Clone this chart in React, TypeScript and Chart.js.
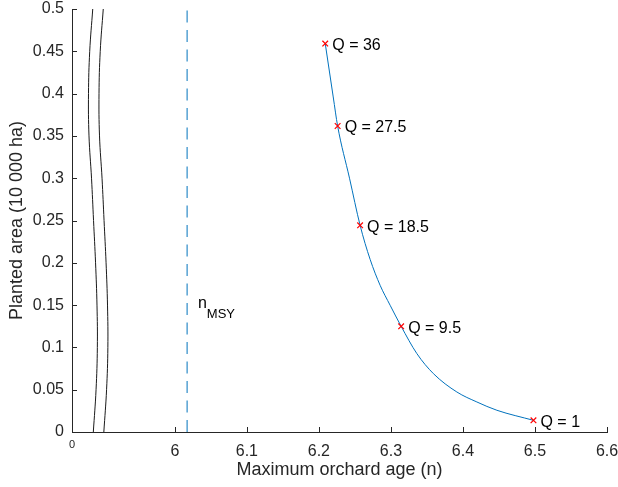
import React, { useEffect, useRef } from 'react';
import { Chart, registerables } from 'chart.js';

Chart.register(...registerables);

// ---- data ----
const curveX = [6.2088, 6.2199, 6.2260, 6.2425, 6.2572, 6.2711, 6.2850, 6.2989, 6.3142, 6.3360, 6.3590, 6.3915, 6.4193, 6.4471, 6.4979];
const curveY = [0.4591, 0.3960, 0.3617, 0.3000, 0.2443, 0.2041, 0.1734, 0.1498, 0.1249, 0.0927, 0.0690, 0.0473, 0.0355, 0.0257, 0.0138];
const markerQ = ['36', '27.5', '18.5', '9.5', '1'];
const markerX = [6.2088, 6.2260, 6.2572, 6.3142, 6.4979];
const markerY = [0.4591, 0.3617, 0.2443, 0.1249, 0.0138];
const nMSY = 6.017;
const nMSYLabelX = 6.032;
const nMSYLabelY = 0.147;
const xMin = 5.8572;
const xMax = 6.6;
const yMin = 0;
const yMax = 0.5;
const xTicks = [6, 6.1, 6.2, 6.3, 6.4, 6.5, 6.6];
const xTickLabels = ['6', '6.1', '6.2', '6.3', '6.4', '6.5', '6.6'];
const yTicks = [0, 0.05, 0.1, 0.15, 0.2, 0.25, 0.3, 0.35, 0.4, 0.45, 0.5];
const yTickLabels = ['0', '0.05', '0.1', '0.15', '0.2', '0.25', '0.3', '0.35', '0.4', '0.45', '0.5'];
// axis-break symbol (two wavy lines)
const breakY = [0.5, 0.45, 0.4, 0.35, 0.3, 0.25, 0.2, 0.15, 0.1, 0.05, 0];
const breakX = [5.8860, 5.8818, 5.8801, 5.8808, 5.8843, 5.8871, 5.8899, 5.8919, 5.8924, 5.8906, 5.8868];
const breakGap = 0.0146;

const FONT = 'Helvetica, Arial, "Liberation Sans", sans-serif';
const AXIS_COLOR = '#262626';

export default function App() {
  const ref = useRef<HTMLCanvasElement | null>(null);

  useEffect(() => {
    if (!ref.current) return;

    const overlay = {
      id: 'overlay',
      afterDatasetsDraw(chart: any) {
        const ctx = chart.ctx;
        const xs = chart.scales.x;
        const ys = chart.scales.y;
        const area = chart.chartArea;
        ctx.save();
        // inward tick marks
        ctx.strokeStyle = AXIS_COLOR;
        ctx.lineWidth = 1;
        ctx.beginPath();
        xTicks.forEach((v) => {
          const px = Math.round(xs.getPixelForValue(v)) + 0.5;
          ctx.moveTo(px, area.bottom);
          ctx.lineTo(px, area.bottom - 5);
        });
        yTicks.forEach((v) => {
          const py = Math.round(ys.getPixelForValue(v)) + 0.5;
          ctx.moveTo(area.left, py);
          ctx.lineTo(area.left + 5, py);
        });
        ctx.stroke();

        // "0" label at broken origin
        ctx.fillStyle = AXIS_COLOR;
        ctx.font = `11px ${FONT}`;
        ctx.textAlign = 'center';
        ctx.textBaseline = 'middle';
        ctx.fillText('0', xs.getPixelForValue(xMin), area.bottom + 13);

        // Q labels
        ctx.fillStyle = '#000';
        ctx.font = `16px ${FONT}`;
        ctx.textAlign = 'left';
        ctx.textBaseline = 'middle';
        markerQ.forEach((q, i) => {
          const px = xs.getPixelForValue(markerX[i]);
          const py = ys.getPixelForValue(markerY[i]);
          ctx.fillText('Q = ' + q, px + 7, py + 2);
        });

        // n_MSY label
        const lx = xs.getPixelForValue(nMSYLabelX);
        const ly = ys.getPixelForValue(nMSYLabelY);
        ctx.textBaseline = 'alphabetic';
        ctx.font = `16px ${FONT}`;
        ctx.fillText('n', lx, ly);
        const nw = ctx.measureText('n').width;
        ctx.font = `13px ${FONT}`;
        ctx.fillText('MSY', lx + nw, ly + 10);
        ctx.restore();
      },
    };

    const chart = new Chart(ref.current, {
      type: 'scatter',
      data: {
        datasets: [
          {
            label: 'curve',
            data: curveX.map((x, i) => ({ x, y: curveY[i] })),
            showLine: true,
            borderColor: '#0072BD',
            borderWidth: 1,
            pointRadius: 0,
            cubicInterpolationMode: 'monotone',
            order: 2,
          },
          {
            label: 'markers',
            data: markerX.map((x, i) => ({ x, y: markerY[i] })),
            showLine: false,
            pointStyle: 'crossRot',
            pointRadius: 4,
            borderColor: '#ff0000',
            backgroundColor: '#ff0000',
            pointBorderWidth: 1.2,
            order: 1,
          },
          {
            label: 'nMSY',
            data: [{ x: nMSY, y: yMin }, { x: nMSY, y: yMax }],
            showLine: true,
            borderColor: '#0072BD',
            borderWidth: 1,
            borderDash: [12, 7.5],
            pointRadius: 0,
            order: 3,
          },
          {
            label: 'break1',
            data: breakY.map((y, i) => ({ x: breakX[i], y })),
            showLine: true,
            borderColor: '#1a1a1a',
            borderWidth: 1,
            pointRadius: 0,
            tension: 0.4,
            order: 4,
          },
          {
            label: 'break2',
            data: breakY.map((y, i) => ({ x: breakX[i] + breakGap, y })),
            showLine: true,
            borderColor: '#1a1a1a',
            borderWidth: 1,
            pointRadius: 0,
            tension: 0.4,
            order: 4,
          },
        ],
      },
      options: {
        animation: false,
        responsive: false,
        maintainAspectRatio: false,
        layout: { padding: { left: 0, top: 9, right: 11, bottom: 0 } },
        plugins: {
          legend: { display: false },
          tooltip: { enabled: false },
        },
        scales: {
          x: {
            type: 'linear',
            min: xMin,
            max: xMax,
            afterBuildTicks: (s: any) => {
              s.ticks = xTicks.map((v) => ({ value: v }));
            },
            afterFit: (s: any) => {
              s.height = 55;
              s.paddingLeft = 0;
              s.paddingRight = 0;
            },
            ticks: {
              autoSkip: false,
              maxRotation: 0,
              padding: 10,
              color: AXIS_COLOR,
              font: { size: 16, family: FONT },
              callback: (v: any) => {
                const i = xTicks.findIndex((t) => Math.abs(t - Number(v)) < 1e-9);
                return i >= 0 ? xTickLabels[i] : '';
              },
            },
            grid: { display: true, drawOnChartArea: false, drawTicks: false },
            border: { display: true, color: AXIS_COLOR, width: 1 },
            title: {
              display: true,
              text: 'Maximum orchard age (n)',
              color: AXIS_COLOR,
              font: { size: 18, family: FONT },
              padding: { top: 0, bottom: 6 },
            },
          },
          y: {
            type: 'linear',
            min: yMin,
            max: yMax,
            afterBuildTicks: (s: any) => {
              s.ticks = yTicks.map((v) => ({ value: v }));
            },
            afterFit: (s: any) => {
              s.width = 72;
              s.paddingTop = 0;
              s.paddingBottom = 0;
            },
            ticks: {
              autoSkip: false,
              padding: 8,
              color: AXIS_COLOR,
              font: { size: 16, family: FONT },
              callback: (v: any) => {
                const i = yTicks.findIndex((t) => Math.abs(t - Number(v)) < 1e-9);
                return i >= 0 ? yTickLabels[i] : '';
              },
            },
            grid: { display: true, drawOnChartArea: false, drawTicks: false },
            border: { display: true, color: AXIS_COLOR, width: 1 },
            title: {
              display: true,
              text: 'Planted area (10 000 ha)',
              color: AXIS_COLOR,
              font: { size: 18, family: FONT },
              padding: { top: 6, bottom: 0 },
            },
          },
        },
      },
      plugins: [overlay],
    });

    return () => chart.destroy();
  }, []);

  return (
    <div style={{ position: 'absolute', left: 0, top: 0, width: 618, height: 487, background: '#fff' }}>
      <canvas ref={ref} width={618} height={487} style={{ display: 'block' }} />
    </div>
  );
}
